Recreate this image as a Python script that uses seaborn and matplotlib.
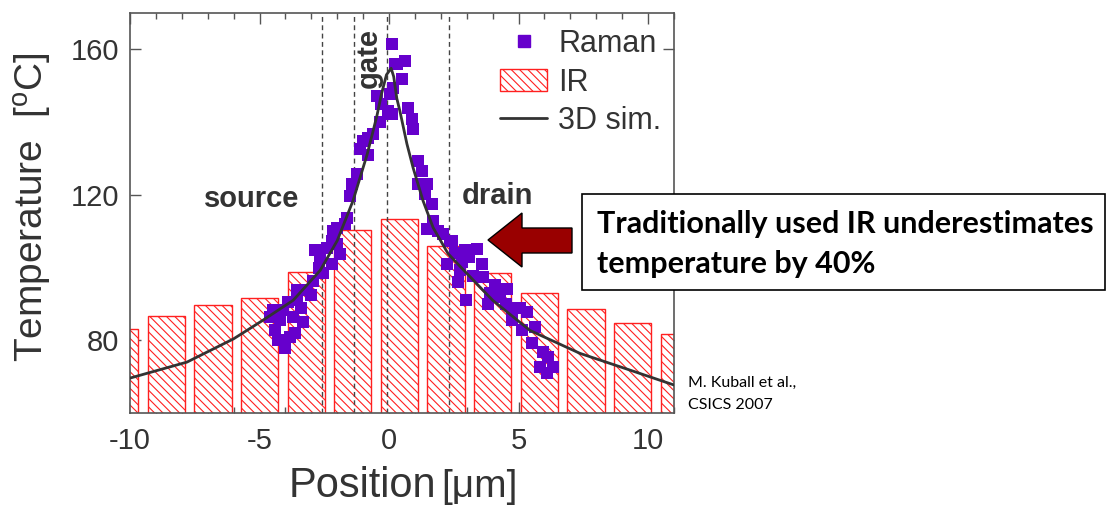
import matplotlib
matplotlib.use("Agg")
import matplotlib.pyplot as plt
import seaborn as sns
import numpy as np
from matplotlib.lines import Line2D
from matplotlib.patches import Patch, Rectangle, Polygon
from matplotlib.ticker import MultipleLocator

# ---------------- data ----------------
ir_pos = [-10.4, -8.6, -6.8, -5.0, -3.2, -1.4, 0.4, 2.2, 4.0, 5.8, 7.6, 9.4, 11.2]
ir_temp = [83.0, 86.6, 89.6, 91.6, 98.9, 110.4, 113.3, 105.8, 98.4, 93.0, 88.7, 84.7, 81.7]

sim_x = [-10.0, -7.8, -6.0, -4.87, -3.7, -2.66, -2.0, -1.39, -0.85, -0.6, -0.46, -0.3,
         -0.1, 0.08, 0.18, 0.3, 0.42, 0.69, 0.93, 1.31, 1.7, 2.28, 3.0, 4.0, 5.44,
         7.37, 9.3, 11.0]
sim_T = [69.6, 74.0, 80.4, 85.5, 91.0, 99.2, 107.4, 118.4, 131.0, 138.0, 142.0, 147.5,
         153.0, 154.8, 152.5, 146.5, 143.0, 134.0, 127.4, 118.4, 111.0, 103.8, 98.4, 91.0,
         82.7, 76.4, 71.8, 67.7]

raman_x = [-4.48, -4.40, -4.20, -4.09, -4.02, -3.82, -3.71, -3.63, -3.55, -3.55, -3.32,
           -3.17, -3.40, -3.00, -2.93, -2.86, -2.66, -2.55, -2.39, -2.20, -2.20, -2.16,
           -2.01, -2.00, -1.89, -1.70, -1.62, -1.50, -1.43, -1.24, -1.12, -1.00, -0.80,
           -0.62, -0.46, -0.30, -0.04, 0.04, 0.12, 0.15, 0.23, 0.31, 0.50, 0.62, 0.12,
           0.73, 0.89, 0.93, 1.12, 1.27, 1.12, 1.47, 1.39, 1.66, 1.70, 1.47, 2.08, 2.36,
           2.55, 2.43, 2.93, 3.40, 3.59, 2.24, 2.74, 2.66, 3.24, 3.63, 2.97, 3.82, 4.09,
           4.56, 4.29, 4.75, 5.06, 5.33, 4.75, 5.14, 5.64, 5.52, 5.95, 5.83, 6.10, 6.33,
           6.14, -0.35, -0.80, 3.10, 3.90, 4.50, 1.90, 2.80, -4.60, -3.90, -2.70, -4.30]
raman_T = [88.2, 82.7, 85.5, 88.2, 77.8, 80.8, 86.3, 81.9, 91.0, 93.7, 84.9,
           93.7, 89.0, 92.5, 96.4, 104.7, 102.7, 98.4, 105.5, 101.1, 107.4, 110.1,
           111.0, 106.6, 103.8, 112.0, 113.7, 119.7, 123.0, 125.8, 132.6, 134.8, 135.5,
           136.7, 147.1, 145.0, 143.0, 147.7, 161.6, 149.3, 155.9, 155.9, 151.8, 156.7, 142.2,
           143.8, 140.8, 138.0, 129.3, 126.6, 123.0, 123.0, 120.3, 117.5, 112.9, 110.7, 109.3, 107.4,
           104.1, 107.4, 104.7, 105.2, 101.1, 101.1, 99.2, 95.9, 97.8, 97.3, 91.0, 90.1, 95.1,
           94.2, 91.8, 88.8, 89.0, 87.7, 85.5, 82.7, 83.6, 79.2, 76.7, 72.6, 71.0, 72.6,
           75.3, 140.0, 131.0, 103.0, 93.0, 90.0, 110.0, 101.5, 86.5, 90.5, 100.0, 80.0]

region_x = [-2.6, -1.35, -0.08, 2.32]
x_ticks = [-10, -5, 0, 5, 10]
y_ticks = [80, 120, 160]

# ---------------- style ----------------
sns.set_style("ticks")
plt.rcParams['font.family'] = ['Liberation Sans', 'DejaVu Sans']
plt.rcParams['mathtext.fontset'] = 'custom'
plt.rcParams['mathtext.rm'] = 'Liberation Sans'
plt.rcParams['hatch.linewidth'] = 0.8

W, H = 1107, 505
fig = plt.figure(figsize=(W / 100, H / 100), dpi=100)
ax = fig.add_axes([130 / W, 92 / H, 544 / W, 400 / H])

TXT = '#333333'
RED = '#ff2020'
PURPLE = '#6600cc'
HATCH = '\\\\\\\\'

# IR bars
sns.barplot(x=ir_pos, y=ir_temp, native_scale=True, width=0.8, color='white',
            edgecolor=RED, linewidth=1.0, errorbar=None, ax=ax, zorder=1)
for p in ax.patches:
    p.set_hatch(HATCH)
    p.set_facecolor('white')
    p.set_edgecolor(RED)

for xv in region_x:
    ax.axvline(xv, color='#444444', ls=(0, (3.5, 2.5)), lw=1.0, zorder=2)

sns.scatterplot(x=raman_x, y=raman_T, marker='s', s=85, color=PURPLE,
                edgecolor=PURPLE, linewidth=0, ax=ax, legend=False, zorder=4)
sns.lineplot(x=sim_x, y=sim_T, color='#333333', lw=2.0, estimator=None, ax=ax, zorder=5)

ax.set_xlim(-10, 11)
ax.set_ylim(60, 170)
ax.set_xticks(x_ticks)
ax.set_xticklabels([str(v) for v in x_ticks])
ax.set_yticks(y_ticks)
ax.xaxis.set_minor_locator(MultipleLocator(1))
ax.set_xlabel('')
ax.set_ylabel('')
ax.tick_params(which='both', direction='in', top=True, right=True, color='#555555', width=1.0)
ax.tick_params(which='major', length=8, labelsize=21, labelcolor=TXT)
ax.tick_params(axis='x', which='major', pad=10)
ax.tick_params(axis='y', which='major', pad=8)
ax.tick_params(which='minor', length=4)
for s in ax.spines.values():
    s.set_color('#555555')
    s.set_linewidth(1.2)

# region labels
ax.text(-5.29, 118.9, 'source', fontsize=21, fontweight='bold', color=TXT, ha='center', va='center')
ax.text(4.17, 119.7, 'drain', fontsize=21, fontweight='bold', color=TXT, ha='center', va='center')
ax.text(-0.77, 157.5, 'gate', fontsize=21, fontweight='bold', color=TXT, ha='center', va='center',
        rotation=90)

# legend
handles = [Line2D([], [], marker='s', ls='', color=PURPLE, markersize=9),
           Patch(facecolor='white', edgecolor=RED, hatch=HATCH),
           Line2D([], [], color='#333333', lw=2)]
leg = ax.legend(handles, ['Raman', 'IR', '3D sim.'], loc='upper left',
                bbox_to_anchor=((500 - 130) / 544, (413 - 29) / 400), frameon=False,
                fontsize=22, borderpad=0, borderaxespad=0, handlelength=1.55,
                handletextpad=0.35, labelspacing=0.28)
for t in leg.get_texts():
    t.set_color(TXT)

# axis labels
fig.text(33 / W, 1 - 207 / H, r'Temperature  [$^{\mathrm{o}}$C]', rotation=90, ha='center',
         va='center', fontsize=28, color=TXT)
fig.text(436 / W, 1 - 497 / H, 'Position', ha='right', va='baseline', fontsize=30, color=TXT)
fig.text(441 / W, 1 - 497 / H, '[\u03bcm]', ha='left', va='baseline', fontsize=28, color=TXT)

# annotation box + arrow
fig.patches.append(Rectangle((582 / W, 1 - 290 / H), 523 / W, 96 / H, transform=fig.transFigure,
                             facecolor='white', edgecolor='black', lw=1.2, figure=fig))
fig.text(597 / W, 1 - 233 / H, 'Traditionally used IR underestimates', fontsize=22,
         fontweight='bold', family='Lato', color='black', va='baseline')
fig.text(597 / W, 1 - 273 / H, 'temperature by 40%', fontsize=22,
         fontweight='bold', family='Lato', color='black', va='baseline')
arrow_px = [(488, 240), (522, 213), (522, 228), (572, 228), (572, 253), (522, 253), (522, 267)]
fig.patches.append(Polygon([(x / W, 1 - y / H) for x, y in arrow_px], closed=True,
                           transform=fig.transFigure, facecolor='#990000', edgecolor='black',
                           lw=1.0, figure=fig))

fig.text(688 / W, 1 - 383 / H, 'M. Kuball et al.,', fontsize=11.5, family='Lato', va='center',
         color='black')
fig.text(688 / W, 1 - 405 / H, 'CSICS 2007', fontsize=11.5, family='Lato', va='center',
         color='black')

fig.savefig('out.png', dpi=100)
